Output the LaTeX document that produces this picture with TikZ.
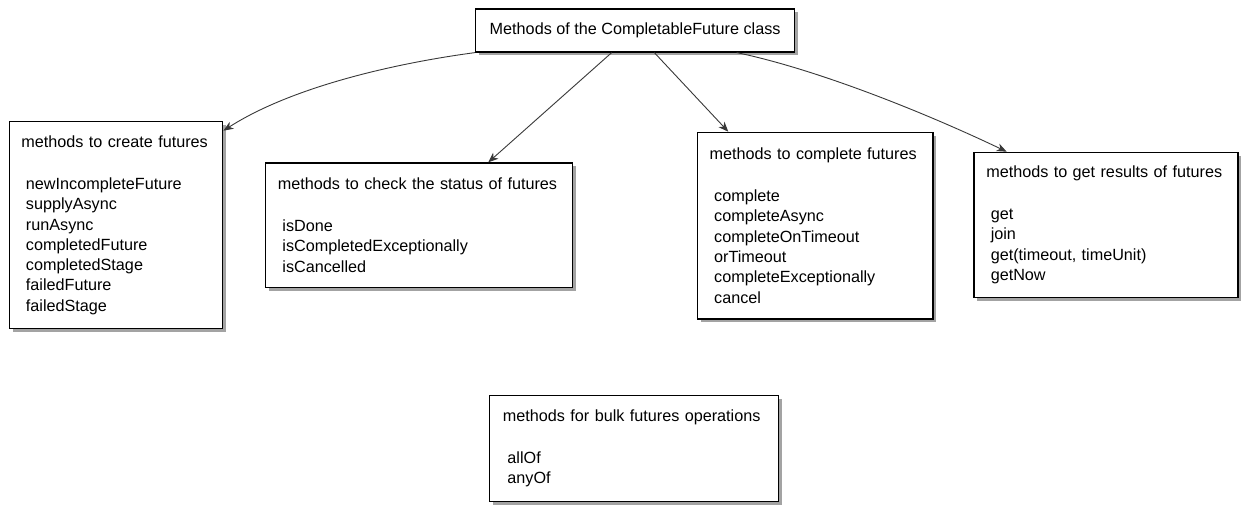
\documentclass[tikz,border=0pt]{standalone}
\usepackage{fontspec}
\setmainfont{Liberation Sans}
\usetikzlibrary{shadows,arrows.meta,calc}
\newcommand\myind{\hspace*{4.5pt}}
\begin{document}
\begin{tikzpicture}[x=1pt,y=-1pt,
  box/.style={draw=black, line width=1.3pt, fill=white,
    drop shadow={shadow xshift=3.5pt, shadow yshift=-3.5pt, fill=black!60, opacity=0.6},
    align=left, inner xsep=12.3pt, inner ysep=0pt, anchor=north west,
    font=\fontsize{16.2}{20.3}\selectfont},
  conn/.style={draw=black!78, line width=0.9pt, -{Stealth[length=10pt,width=8pt,inset=3pt]}}
]
\useasboundingbox (0,0) rectangle (1250,515);

\node[box, align=center, minimum width=319pt, minimum height=43pt] (top) at (475,8.3)
  {Methods of the CompletableFuture class};

\node[box, text width=189pt, minimum height=207pt] (create) at (8.5,121)
  {methods to create futures\\[21.7pt]
   \myind newIncompleteFuture\\
   \myind supplyAsync\\
   \myind runAsync\\
   \myind completedFuture\\
   \myind completedStage\\
   \myind failedFuture\\
   \myind failedStage};

\node[box, text width=282pt, minimum height=124.5pt] (status) at (265,162.3)
  {methods to check the status of futures\\[21.7pt]
   \myind isDone\\
   \myind isCompletedExceptionally\\
   \myind isCancelled};

\node[box, text width=211pt, minimum height=186.6pt] (complete) at (696.7,131.7)
  {methods to complete futures\\[21.7pt]
   \myind complete\\
   \myind completeAsync\\
   \myind completeOnTimeout\\
   \myind orTimeout\\
   \myind completeExceptionally\\
   \myind cancel};

\node[box, text width=239.4pt, minimum height=145pt] (results) at (973.3,151.7)
  {methods to get results of futures\\[21.7pt]
   \myind get\\
   \myind join\\
   \myind get(timeout, timeUnit)\\
   \myind getNow};

\node[box, inner xsep=13.3pt, text width=262pt, minimum height=106pt] (bulk) at (489,395)
  {methods for bulk futures operations\\[21.7pt]
   \myind allOf\\
   \myind anyOf};

\draw[conn] (top.south west) .. controls (390,64) and (290,88) .. ([yshift=-9.7pt]create.north east);
\draw[conn] ([xshift=136.7pt]top.south west) -- ([xshift=223.3pt]status.north west);
\draw[conn] ([xshift=179.3pt]top.south west) -- ([xshift=31.6pt]complete.north west);
\draw[conn] ([xshift=261.7pt]top.south west) .. controls (820,70) and (930,115) .. ([xshift=33.4pt]results.north west);
\end{tikzpicture}
\end{document}
